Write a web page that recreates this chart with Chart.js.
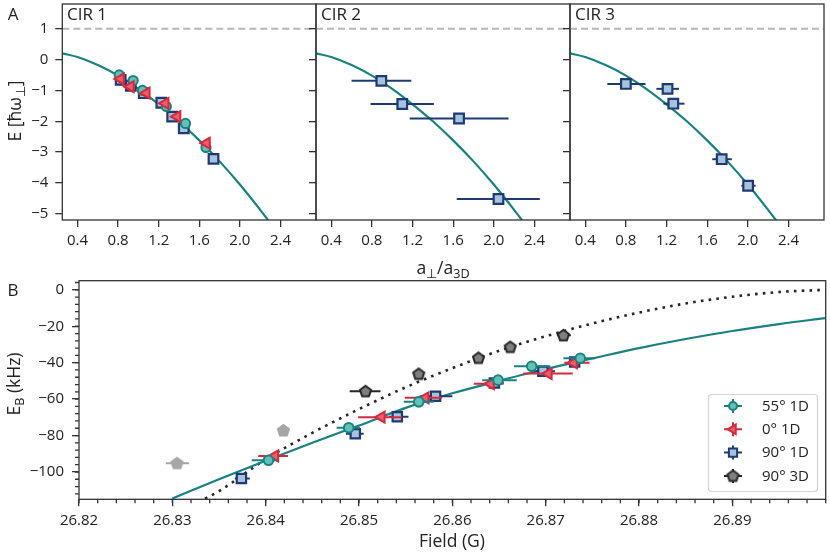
<!DOCTYPE html>
<html>
<head>
<meta charset="utf-8">
<script src="https://cdn.jsdelivr.net/npm/chart.js@4.4.1/dist/chart.umd.min.js"></script>
<style>
  body { margin: 0; background: #fff; }
  #wrap { position: relative; width: 830px; height: 554px; overflow: hidden;
          font-family: 'Open Sans', sans-serif; color: #222; }
  #wrap canvas { position: absolute; left: 0; top: 0; }
  .lbl { position: absolute; white-space: nowrap; line-height: 1; }
  .c { transform: translate(-50%, -50%); }
  .rot { transform: translate(-50%, -50%) rotate(-90deg); }
  sub { font-size: 72%; vertical-align: -0.28em; line-height: 0; }
</style>
</head>
<body>
<div id="wrap">
  <canvas id="cA1" width="830" height="554"></canvas>
  <canvas id="cA2" width="830" height="554"></canvas>
  <canvas id="cA3" width="830" height="554"></canvas>
  <canvas id="cB" width="830" height="554"></canvas>

  <div class="lbl c" style="left:13px;top:13px;font-size:17px;">A</div>
  <div class="lbl c" style="left:13px;top:289px;font-size:17px;">B</div>
  <div class="lbl" style="left:67px;top:5px;font-size:17px;">CIR 1</div>
  <div class="lbl" style="left:321px;top:5px;font-size:17px;">CIR 2</div>
  <div class="lbl" style="left:575px;top:5px;font-size:17px;">CIR 3</div>
  <div class="lbl rot" style="left:15px;top:111px;font-size:17.5px;">E [ħω<sub>⊥</sub>]</div>
  <div class="lbl c" style="left:443px;top:268px;font-size:17.5px;">a<sub>⊥</sub>/a<sub>3D</sub></div>
  <div class="lbl rot" style="left:14px;top:384px;font-size:17.5px;">E<sub>B</sub> (kHz)</div>
  <div class="lbl c" style="left:452px;top:541px;font-size:17.5px;">Field (G)</div>
</div>

<script>
// ============  data  ============

// panel A: theory curve, E [hbar omega] vs a_perp / a_3D
const curveA_x = [0.25, 0.4, 0.6, 0.8, 1.0, 1.2, 1.4, 1.6, 1.8, 2.0, 2.2, 2.3];
const curveA_E = [0.20, 0.08, -0.18, -0.52, -0.95, -1.45, -2.0, -2.62, -3.3, -4.05, -4.87, -5.3];

const cir1_circ_x = [0.811, 0.948, 1.04, 1.275, 1.464, 1.666];
const cir1_circ_E = [-0.50, -0.68, -1.0, -1.52, -2.07, -2.85];
const cir1_tri_x = [0.825, 0.922, 1.079, 1.265, 1.382, 1.672];
const cir1_tri_E = [-0.63, -0.88, -1.09, -1.42, -1.85, -2.71];
const cir1_sq_x = [0.825, 0.925, 1.053, 1.226, 1.333, 1.447, 1.74];
const cir1_sq_E = [-0.66, -0.85, -1.09, -1.40, -1.85, -2.23, -3.22];

const cir2_sq_x = [0.893, 1.099, 1.658, 2.046];
const cir2_sq_E = [-0.69, -1.44, -1.91, -4.52];
const cir2_sq_lo = [0.600, 0.787, 1.172, 1.635];
const cir2_sq_hi = [1.188, 1.410, 2.145, 2.453];

const cir3_sq_x = [0.80, 1.21, 1.267, 1.743, 2.003];
const cir3_sq_E = [-0.79, -0.95, -1.43, -3.23, -4.09];
const cir3_sq_lo = [0.617, 1.100, 1.170, 1.650, 1.937];
const cir3_sq_hi = [0.993, 1.323, 1.377, 1.843, 2.077];

const ticksA_x = [0.4, 0.8, 1.2, 1.6, 2.0, 2.4];
const ticksA_y = [-5, -4, -3, -2, -1, 0, 1];

// panel B: binding energy vs field
const fit1D_x = [26.830, 26.835, 26.840, 26.845, 26.850, 26.855, 26.860, 26.865,
                 26.870, 26.875, 26.880, 26.885, 26.890, 26.895, 26.900];
const fit1D_E = [-114.6, -104.0, -93.8, -84.0, -74.5, -64.8, -56.8, -50.0,
                 -43.5, -37.7, -32.0, -27.0, -22.6, -18.8, -15.5];
const fit3D_x = [26.8335, 26.835, 26.840, 26.845, 26.850, 26.855, 26.860, 26.865,
                 26.870, 26.875, 26.880, 26.885, 26.890, 26.895, 26.900];
const fit3D_E = [-114.6, -110.5, -93.0, -78.5, -65.5, -53.5, -43.0, -33.5,
                 -25.5, -18.5, -12.5, -7.5, -3.8, -1.2, 0];

const b55_x  = [26.8403, 26.8489, 26.8564, 26.8649, 26.8685, 26.8737];
const b55_E  = [-93.6, -75.7, -61.5, -49.6, -42.0, -37.6];
const b55_lo = [26.8385, 26.8476, 26.8548, 26.8632, 26.8666, 26.8719];
const b55_hi = [26.8412, 26.8501, 26.8580, 26.8669, 26.8705, 26.8753];

const b0_x  = [26.8410, 26.8524, 26.8571, 26.8641, 26.8703, 26.8730];
const b0_E  = [-91.2, -69.9, -59.3, -51.6, -46.0, -40.1];
const b0_lo = [26.8392, 26.8499, 26.8549, 26.8623, 26.8676, 26.8720];
const b0_hi = [26.8424, 26.8546, 26.8589, 26.8655, 26.8729, 26.8747];

const b90_x  = [26.8374, 26.8496, 26.8541, 26.8582, 26.8645, 26.8697, 26.8731];
const b90_E  = [-103.6, -79.0, -69.7, -58.4, -51.1, -44.7, -39.6];
const b90_lo = [26.8367, 26.8486, 26.8532, 26.8565, 26.8635, 26.8685, 26.8725];
const b90_hi = [26.8383, 26.8505, 26.8553, 26.8600, 26.8655, 26.8710, 26.8738];

const b3D_x  = [26.8507, 26.8564, 26.8628, 26.8662, 26.8719];
const b3D_E  = [-55.7, -46.2, -37.4, -31.4, -25.0];
const b3D_lo = [26.8490, 26.8560, 26.8624, 26.8658, 26.8712];
const b3D_hi = [26.8523, 26.8568, 26.8632, 26.8666, 26.8727];

const bGrey_x  = [26.8305, 26.8419];
const bGrey_E  = [-95.2, -77.2];
const bGrey_lo = [26.8293, 26.8414];
const bGrey_hi = [26.8318, 26.8424];

const ticksB_x = [26.82, 26.83, 26.84, 26.85, 26.86, 26.87, 26.88, 26.89];
const ticksB_y = [-100, -80, -60, -40, -20, 0];

const legendB = ['55° 1D', '0° 1D', '90° 1D', '90° 3D'];

// ============  styles  ============

const TEAL = '#1a8181', TEAL_FILL = '#63c0b8', TEAL_EDGE = '#17857f';
const RED = '#d7283c', RED_FILL = '#e8606c';
const NAVY = '#1d3b72', NAVY_FILL = '#a7c2dd';
const DARK = '#262626', GREY = '#a6a6a6';
const AXIS = '#333';

Chart.defaults.font.family = "'Open Sans', sans-serif";
Chart.defaults.font.size = 15;
Chart.defaults.color = '#222';
Chart.defaults.animation = false;

function pts(xs, ys) { return xs.map((x, i) => ({ x: x, y: ys[i] })); }
function minus(s) { return String(s).replace('-', '\u2212'); }

function pentagon(fill, edge) {
  const c = document.createElement('canvas');
  c.width = 15; c.height = 15;
  const g = c.getContext('2d');
  g.beginPath();
  for (let k = 0; k < 5; k++) {
    const a = -Math.PI / 2 + k * 2 * Math.PI / 5;
    g.lineTo(7.5 + 5.8 * Math.cos(a), 7.8 + 5.8 * Math.sin(a));
  }
  g.closePath();
  g.fillStyle = fill; g.fill();
  g.lineWidth = 2; g.strokeStyle = edge; g.stroke();
  return c;
}
const pentDark = pentagon('#7f7f7f', DARK);
const pentGrey = pentagon(GREY, GREY);

function fixAxis(size, horizontal) {
  return function (s) {
    if (horizontal) s.height = size; else s.width = size;
    s.paddingLeft = 0; s.paddingRight = 0; s.paddingTop = 0; s.paddingBottom = 0;
  };
}
function setTicks(arr) {
  return function (s) { s.ticks = arr.map(v => ({ value: v })); };
}

// ============  plugins  ============

const errorBars = {
  id: 'errorBars',
  beforeDatasetDraw(chart, args) {
    const ds = chart.data.datasets[args.index];
    if (!ds.xLo) return;
    const ctx = chart.ctx, a = chart.chartArea;
    const xs = chart.scales.x, ys = chart.scales.y;
    ctx.save();
    ctx.beginPath();
    ctx.rect(a.left, a.top, a.right - a.left, a.bottom - a.top);
    ctx.clip();
    ctx.strokeStyle = ds.errColor;
    ctx.lineWidth = 2;
    ds.data.forEach((p, i) => {
      const y = ys.getPixelForValue(p.y);
      ctx.beginPath();
      ctx.moveTo(xs.getPixelForValue(ds.xLo[i]), y);
      ctx.lineTo(xs.getPixelForValue(ds.xHi[i]), y);
      ctx.stroke();
    });
    ctx.restore();
  }
};

const frame = {
  id: 'frame',
  afterDraw(chart, args, opts) {
    const ctx = chart.ctx, a = chart.chartArea;
    ctx.save();
    ctx.strokeStyle = AXIS;
    ctx.lineWidth = 1.3;
    ctx.strokeRect(a.left, a.top, a.right - a.left, a.bottom - a.top);
    if (opts.minorStepX) {
      const s = chart.scales.x;
      ctx.beginPath();
      for (let v = s.min; v <= s.max + 1e-9; v += opts.minorStepX) {
        const px = s.getPixelForValue(v);
        ctx.moveTo(px, a.bottom); ctx.lineTo(px, a.bottom + 4);
      }
      ctx.stroke();
    }
    if (opts.minorStepY) {
      const s = chart.scales.y;
      ctx.beginPath();
      for (let v = opts.minorStartY; v <= s.max + 1e-9; v += opts.minorStepY) {
        const py = s.getPixelForValue(v);
        ctx.moveTo(a.left, py); ctx.lineTo(a.left - 4, py);
      }
      ctx.stroke();
    }
    ctx.restore();
  }
};

const legendBox = {
  id: 'legendBox',
  afterDraw(chart) {
    const ctx = chart.ctx;
    const items = chart.data.datasets.filter(d => d.legendIndex !== undefined)
      .sort((p, q) => p.legendIndex - q.legendIndex);
    const x0 = 708.5, y0 = 394.5, w = 109, h = 97;
    ctx.save();
    ctx.beginPath();
    ctx.roundRect(x0, y0, w, h, 3);
    ctx.fillStyle = 'rgba(255,255,255,0.85)';
    ctx.fill();
    ctx.strokeStyle = '#d4d4d4';
    ctx.lineWidth = 1.2;
    ctx.stroke();
    items.forEach((d, i) => {
      const mx = 733, my = 406 + i * 23.3;
      ctx.strokeStyle = d.errColor;
      ctx.lineWidth = 2;
      ctx.beginPath();
      ctx.moveTo(mx - 9, my); ctx.lineTo(mx + 9, my);
      ctx.moveTo(mx, my - 7); ctx.lineTo(mx, my + 7);
      ctx.stroke();
      ctx.fillStyle = d.pointBackgroundColor;
      ctx.strokeStyle = d.pointBorderColor;
      Chart.helpers.drawPoint(ctx, {
        pointStyle: d.pointStyle, rotation: d.pointRotation || 0,
        radius: d.pointRadius - 0.8, borderWidth: d.pointBorderWidth
      }, mx, my);
      ctx.fillStyle = '#222';
      ctx.font = "15px 'Open Sans', sans-serif";
      ctx.textBaseline = 'middle';
      ctx.fillText(d.label, 762, my + 0.5);
    });
    ctx.restore();
  }
};

// ============  panel A (three CIRs)  ============

function curveSet(xs, ys) {
  return {
    data: pts(xs, ys), showLine: true, pointRadius: 0, borderColor: TEAL,
    borderWidth: 2.2, cubicInterpolationMode: 'monotone', order: 5
  };
}
function dashOne() {
  return {
    data: [{ x: 0.25, y: 1 }, { x: 2.75, y: 1 }], showLine: true, pointRadius: 0,
    borderColor: '#b8b8b8', borderWidth: 2, borderDash: [7, 4], order: 6
  };
}
function circSet(xs, ys) {
  return { data: pts(xs, ys), pointStyle: 'circle', pointRadius: 4.6,
           pointBackgroundColor: TEAL_FILL, pointBorderColor: TEAL_EDGE, pointBorderWidth: 2 };
}
function triSet(xs, ys) {
  return { data: pts(xs, ys), pointStyle: 'triangle', pointRotation: -90, pointRadius: 6.3,
           pointBackgroundColor: RED_FILL, pointBorderColor: RED, pointBorderWidth: 2 };
}
function sqSet(xs, ys, lo, hi) {
  return { data: pts(xs, ys), pointStyle: 'rect', pointRadius: 6.8,
           pointBackgroundColor: NAVY_FILL, pointBorderColor: NAVY, pointBorderWidth: 2.2,
           xLo: lo, xHi: hi, errColor: NAVY };
}

function panelA(id, left, right, yLabels, sets) {
  const yw = 40;
  new Chart(document.getElementById(id), {
    type: 'scatter',
    data: { datasets: sets },
    options: {
      responsive: false,
      devicePixelRatio: 1,
      layout: { autoPadding: false,
                padding: { left: left - yw, right: 830 - right, top: 4, bottom: 554 - 220 - 30 } },
      plugins: { legend: { display: false }, tooltip: { enabled: false },
                 frame: {} },
      scales: {
        x: {
          type: 'linear', min: 0.25, max: 2.75,
          afterBuildTicks: setTicks(ticksA_x), afterFit: fixAxis(30, true),
          grid: { drawOnChartArea: false, tickLength: 7, color: AXIS, lineWidth: 1.3 },
          border: { display: false },
          ticks: { padding: 5, maxRotation: 0, autoSkip: false,
                   callback: v => v.toFixed(1) }
        },
        y: {
          type: 'linear', min: -5.2, max: 1.8,
          afterBuildTicks: setTicks(ticksA_y), afterFit: fixAxis(yw, false),
          grid: { drawOnChartArea: false, tickLength: 7, color: AXIS, lineWidth: 1.3 },
          border: { display: false },
          ticks: { display: yLabels, padding: 7, callback: v => minus(v) }
        }
      }
    },
    plugins: [errorBars, frame]
  });
}

// first dataset is drawn on top
panelA('cA1', 62.3, 316, true, [
  triSet(cir1_tri_x, cir1_tri_E),
  circSet(cir1_circ_x, cir1_circ_E),
  sqSet(cir1_sq_x, cir1_sq_E),
  curveSet(curveA_x, curveA_E), dashOne()
]);
panelA('cA2', 316, 570, false, [
  sqSet(cir2_sq_x, cir2_sq_E, cir2_sq_lo, cir2_sq_hi),
  curveSet(curveA_x, curveA_E), dashOne()
]);
panelA('cA3', 570, 824, false, [
  sqSet(cir3_sq_x, cir3_sq_E, cir3_sq_lo, cir3_sq_hi),
  curveSet(curveA_x, curveA_E), dashOne()
]);

// ============  panel B (binding energy)  ============

const setsB = [
  { label: legendB[0], legendIndex: 0, data: pts(b55_x, b55_E), pointStyle: 'circle', pointRadius: 4.8,
    pointBackgroundColor: TEAL_FILL, pointBorderColor: TEAL_EDGE, pointBorderWidth: 2,
    xLo: b55_lo, xHi: b55_hi, errColor: TEAL },
  { label: legendB[1], legendIndex: 1, data: pts(b0_x, b0_E), pointStyle: 'triangle', pointRotation: -90,
    pointRadius: 6.3, pointBackgroundColor: RED_FILL, pointBorderColor: RED, pointBorderWidth: 2,
    xLo: b0_lo, xHi: b0_hi, errColor: RED },
  { label: legendB[2], legendIndex: 2, data: pts(b90_x, b90_E), pointStyle: 'rect', pointRadius: 6.6,
    pointBackgroundColor: NAVY_FILL, pointBorderColor: NAVY, pointBorderWidth: 2.2,
    xLo: b90_lo, xHi: b90_hi, errColor: NAVY },
  { label: legendB[3], legendIndex: 3, data: pts(b3D_x, b3D_E), pointStyle: pentDark, pointRadius: 6,
    pointBackgroundColor: '#7f7f7f', pointBorderColor: DARK, pointBorderWidth: 2,
    xLo: b3D_lo, xHi: b3D_hi, errColor: DARK },
  { data: pts(bGrey_x, bGrey_E), pointStyle: pentGrey, pointRadius: 6,
    pointBackgroundColor: GREY, pointBorderColor: GREY, pointBorderWidth: 0,
    xLo: bGrey_lo, xHi: bGrey_hi, errColor: GREY },
  { data: pts(fit1D_x, fit1D_E), showLine: true, pointRadius: 0, borderColor: TEAL,
    borderWidth: 2.2, cubicInterpolationMode: 'monotone', order: 5 },
  { data: pts(fit3D_x, fit3D_E), showLine: true, pointRadius: 0, borderColor: DARK,
    borderWidth: 2.6, borderDash: [2.6, 5.2], cubicInterpolationMode: 'monotone', order: 6 }
];

const yB = 60;
new Chart(document.getElementById('cB'), {
  type: 'scatter',
  data: { datasets: setsB },
  options: {
    responsive: false,
    devicePixelRatio: 1,
    layout: { autoPadding: false,
              padding: { left: 79 - yB, right: 830 - 825.7, top: 280.7, bottom: 554 - 499.3 - 30 } },
    plugins: { legend: { display: false }, tooltip: { enabled: false },
               frame: { minorStepX: 0.002, minorStepY: 4, minorStartY: -112 } },
    scales: {
      x: {
        type: 'linear', min: 26.82, max: 26.90,
        afterBuildTicks: setTicks(ticksB_x), afterFit: fixAxis(30, true),
        grid: { drawOnChartArea: false, tickLength: 7, color: AXIS, lineWidth: 1.3 },
        border: { display: false },
        ticks: { padding: 5, maxRotation: 0, autoSkip: false, callback: v => v.toFixed(2) }
      },
      y: {
        type: 'linear', min: -115, max: 5,
        afterBuildTicks: setTicks(ticksB_y), afterFit: fixAxis(yB, false),
        grid: { drawOnChartArea: false, tickLength: 7, color: AXIS, lineWidth: 1.3 },
        border: { display: false },
        ticks: { padding: 8, callback: v => minus(v) }
      }
    }
  },
  plugins: [errorBars, frame, legendBox]
});
</script>
</body>
</html>
